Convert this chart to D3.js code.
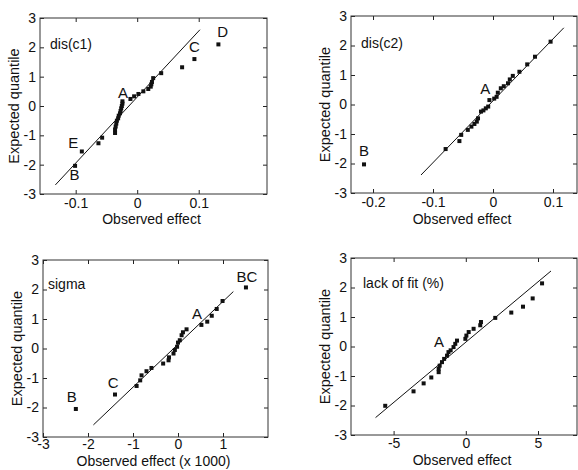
<!DOCTYPE html>
<html>
<head>
<meta charset="utf-8">
<script src="https://cdn.jsdelivr.net/npm/d3@7"></script>
<style>
  body { margin: 0; background: #fff; }
  svg text { font-family: "Liberation Sans", Arial, sans-serif; fill: #111; }
</style>
</head>
<body>
<div id="chart"></div>
<script>
'use strict'
// shared y axis (expected normal quantile)
var quantileTicks = [-3, -2, -1, 0, 1, 2, 3];

// dis(c1)
var disC1Effect   = [-0.101, -0.090, -0.063, -0.057, -0.036, -0.036, -0.035, -0.034, -0.033, -0.031, -0.030, -0.028, -0.027, -0.026, -0.025, -0.024, -0.024, -0.011, -0.005, 0.002, 0.010, 0.018, 0.022, 0.023, 0.024, 0.026, 0.039, 0.073, 0.093, 0.132];
var disC1Quantile = [-2.04, -1.55, -1.27, -1.08, -0.92, -0.80, -0.70, -0.60, -0.50, -0.42, -0.33, -0.25, -0.17, -0.08, 0.0, 0.08, 0.16, 0.24, 0.33, 0.41, 0.50, 0.58, 0.66, 0.74, 0.82, 0.95, 1.12, 1.32, 1.60, 2.10];
var disC1Fit      = [[-0.133, -2.69], [0.102, 2.60]];
var disC1Ticks    = [-0.1, 0, 0.1];
var disC1Labels   = [["A", -0.023, 0.45], ["E", -0.104, -1.24], ["B", -0.102, -2.35], ["C", 0.093, 2.01], ["D", 0.139, 2.53]];

// dis(c2)
var disC2Effect   = [-0.215, -0.079, -0.056, -0.053, -0.042, -0.036, -0.031, -0.027, -0.025, -0.020, -0.016, -0.012, -0.008, -0.006, 0.002, 0.006, 0.008, 0.013, 0.018, 0.025, 0.028, 0.033, 0.044, 0.057, 0.070, 0.096];
var disC2Quantile = [-2.03, -1.51, -1.24, -1.03, -0.86, -0.75, -0.66, -0.58, -0.47, -0.24, -0.20, -0.13, -0.07, 0.15, 0.20, 0.26, 0.40, 0.55, 0.62, 0.72, 0.85, 0.97, 1.11, 1.36, 1.62, 2.13];
var disC2Fit      = [[-0.120, -2.39], [0.118, 2.60]];
var disC2Ticks    = [-0.2, -0.1, 0, 0.1];
var disC2Labels   = [["A", -0.013, 0.53], ["B", -0.215, -1.57]];

// sigma (x 1000)
var sigmaEffect   = [-2.27, -1.40, -0.92, -0.84, -0.81, -0.70, -0.59, -0.33, -0.21, -0.20, -0.10, -0.07, -0.02, 0.00, 0.04, 0.08, 0.11, 0.19, 0.52, 0.65, 0.75, 0.86, 0.99, 1.51];
var sigmaQuantile = [-2.05, -1.56, -1.27, -1.08, -0.91, -0.77, -0.66, -0.51, -0.40, -0.30, -0.17, -0.05, 0.06, 0.20, 0.28, 0.45, 0.55, 0.65, 0.80, 0.91, 1.11, 1.34, 1.61, 2.07];
var sigmaFit      = [[-1.88, -2.59], [1.23, 1.93]];
var sigmaTicks    = [-3, -2, -1, 0, 1];
var sigmaLabels   = [["B", -2.36, -1.62], ["C", -1.44, -1.14], ["A", 0.42, 1.17], ["BC", 1.53, 2.44]];

// lack of fit (%)
var lofEffect     = [-5.58, -3.62, -2.92, -2.39, -1.88, -1.88, -1.81, -1.65, -1.50, -1.30, -1.20, -1.05, -0.85, -0.73, -0.61, -0.03, 0.04, 0.20, 0.54, 1.00, 1.05, 2.04, 3.15, 3.96, 4.63, 5.28];
var lofQuantile   = [-2.01, -1.52, -1.25, -1.05, -0.87, -0.76, -0.65, -0.53, -0.42, -0.31, -0.19, -0.13, -0.02, 0.09, 0.20, 0.26, 0.37, 0.49, 0.60, 0.72, 0.83, 0.97, 1.15, 1.35, 1.63, 2.14];
var lofFit        = [[-6.25, -2.41], [5.90, 2.56]];
var lofTicks      = [-5, 0, 5];
var lofLabels     = [["A", -1.86, 0.17]];

var panels = [
    {name: "dis(c1)", effect: disC1Effect, quantile: disC1Quantile, fit: disC1Fit, xTicks: disC1Ticks, labels: disC1Labels,
     xLabel: "Observed effect", xDomain: [-0.158, 0.211], left: 40, top: 18, width: 227, height: 176,
     nameDx: 10, nameDy: 31, xLabelDy: 30, xTickPad: 4},
    {name: "dis(c2)", effect: disC2Effect, quantile: disC2Quantile, fit: disC2Fit, xTicks: disC2Ticks, labels: disC2Labels,
     xLabel: "Observed effect", xDomain: [-0.2367, 0.14], left: 351, top: 16, width: 226, height: 177,
     nameDx: 10, nameDy: 32, xLabelDy: 31, xTickPad: 4},
    {name: "sigma", effect: sigmaEffect, quantile: sigmaQuantile, fit: sigmaFit, xTicks: sigmaTicks, labels: sigmaLabels,
     xLabel: "Observed effect (x 1000)", xDomain: [-3, 2], left: 43, top: 260, width: 225, height: 177,
     nameDx: 5, nameDy: 29, xLabelDy: 29, xTickPad: 2},
    {name: "lack of fit (%)", effect: lofEffect, quantile: lofQuantile, fit: lofFit, xTicks: lofTicks, labels: lofLabels,
     xLabel: "Observed effect", xDomain: [-7.95, 7.7], left: 351, top: 258, width: 226, height: 177,
     nameDx: 12, nameDy: 30, xLabelDy: 30, xTickPad: 3}
];

var svg = d3.select("#chart").append("svg")
    .attr("width", 578)
    .attr("height", 470);

var drawPanel = function(p){
    var x = d3.scaleLinear().domain(p.xDomain).range([p.left, p.left + p.width]);
    var y = d3.scaleLinear().domain([-3, 3]).range([p.top + p.height, p.top]);
    var g = svg.append("g");
    var bottom = p.top + p.height, right = p.left + p.width;

    //ticks point inward on all four sides, labels only left and bottom
    var xb = g.append("g").attr("transform", "translate(0," + bottom + ")")
        .call(d3.axisBottom(x).tickValues(p.xTicks).tickSize(-4).tickPadding(p.xTickPad).tickFormat(String));
    var xt = g.append("g").attr("transform", "translate(0," + p.top + ")")
        .call(d3.axisTop(x).tickValues(p.xTicks).tickSize(-4).tickFormat(""));
    var yl = g.append("g").attr("transform", "translate(" + p.left + ",0)")
        .call(d3.axisLeft(y).tickValues(quantileTicks).tickSize(-4).tickPadding(4).tickFormat(String));
    var yr = g.append("g").attr("transform", "translate(" + right + ",0)")
        .call(d3.axisRight(y).tickValues(quantileTicks).tickSize(-4).tickFormat(""));

    [xb, xt, yl, yr].forEach(function(a){
        a.select(".domain").remove();
        a.selectAll("line").attr("stroke", "#222");
        a.selectAll("text").attr("font-size", 14).attr("fill", "#111")
            .style("font-family", "'Liberation Sans', Arial, sans-serif");
    });

    g.append("rect")
        .attr("x", p.left).attr("y", p.top)
        .attr("width", p.width).attr("height", p.height)
        .attr("fill", "none").attr("stroke", "#333").attr("stroke-width", 1);

    //fitted reference line
    g.append("line")
        .attr("x1", x(p.fit[0][0])).attr("y1", y(p.fit[0][1]))
        .attr("x2", x(p.fit[1][0])).attr("y2", y(p.fit[1][1]))
        .attr("stroke", "#111").attr("stroke-width", 1);

    g.selectAll(".pt")
        .data(d3.zip(p.effect, p.quantile))
        .enter()
        .append("rect")
        .attr("class", "pt")
        .attr("x", function(d){ return x(d[0]) - 2; })
        .attr("y", function(d){ return y(d[1]) - 2; })
        .attr("width", 4).attr("height", 4)
        .attr("fill", "#111");

    g.selectAll(".lbl")
        .data(p.labels)
        .enter()
        .append("text")
        .attr("class", "lbl")
        .attr("x", function(d){ return x(d[1]); })
        .attr("y", function(d){ return y(d[2]); })
        .attr("dy", "0.36em")
        .attr("text-anchor", "middle")
        .attr("font-size", 15)
        .text(function(d){ return d[0]; });

    g.append("text")
        .attr("x", p.left + p.nameDx).attr("y", p.top + p.nameDy)
        .attr("font-size", 14)
        .text(p.name);

    g.append("text")
        .attr("x", p.left + p.width / 2 - 2).attr("y", bottom + p.xLabelDy)
        .attr("text-anchor", "middle")
        .attr("font-size", 14)
        .text(p.xLabel);

    g.append("text")
        .attr("transform", "translate(" + (p.left - 21) + "," + (p.top + p.height / 2) + ") rotate(-90)")
        .attr("text-anchor", "middle")
        .attr("font-size", 14.5)
        .text("Expected quantile");
};

panels.forEach(drawPanel);
</script>
</body>
</html>
